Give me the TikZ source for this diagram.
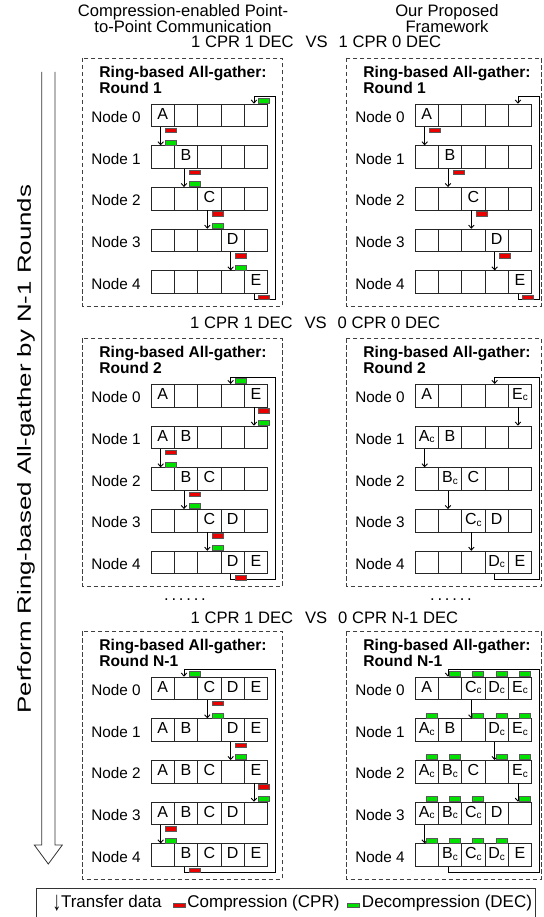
\documentclass[tikz,border=0pt]{standalone}
\usepackage{fontspec}
\setmainfont{Liberation Sans}
\usepackage{tikz}
\usetikzlibrary{positioning}
\usetikzlibrary{arrows.meta}

\definecolor{cprred}{RGB}{235,0,0}
\definecolor{decgreen}{RGB}{0,225,0}

% data cell that was compressed
\newcommand{\cc}{\raisebox{-1.5pt}{\fontsize{10}{10}\selectfont c}}
\newcommand{\sixdots}{.\kern2.8pt.\kern2.8pt.\kern2.8pt.\kern2.8pt.\kern2.8pt.}

% panel: name, x of first cell, top of box, box width, round, rows
\newcommand{\Panel}[6]{%
	\draw[panelbox] (#2-68.3,#3) rectangle ++(#4,248);
	\node[paneltitle] (#1-title) at (#2-51.8,#3+8) {Ring-based All-gather:\\#5};
	\foreach \rowtxt [count=\ri from 0] in {#6} {
		\node[nodelabel] (#1-lab\ri) at (#2-35,#3+59+41.7*\ri) {Node \ri};
		\foreach \txt [count=\ci from 0] in \rowtxt {
			\node[cell] (#1-\ri-\ci) at (#2+11.67+23.33*\ci,#3+57.35+41.7*\ri) {\txt};
		}
	}
}
\newcommand{\Xfer}[4]{\draw[xfer] ([xshift=-2pt]#1-#2-#3.south) -- ([xshift=-2pt]#1-#4-#3.north);}
\newcommand{\Ring}[2]{\draw[xfer] ([xshift=-2pt]#1-4-#2.south) -- ++(0,5.5) -| ([xshift=7.3pt,yshift=7pt]#1-0-4.north east) -| ([xshift=-2pt]#1-0-#2.north);}
\newcommand{\Cpr}[3]{\node[cprbox, anchor=north west] (#1-#2-#3-cpr) at ([xshift=2.5pt,yshift=-1pt]#1-#2-#3.south) {};}
\newcommand{\Dec}[4][2.5pt]{\node[decbox, anchor=south west] (#2-#3-#4-dec) at ([xshift=#1,yshift=0.3pt]#2-#3-#4.north) {};}

\begin{document}
\begin{tikzpicture}[x=1pt,y=-1pt]
	\tikzstyle{cell} = [draw=black!85, line width=0.7pt, minimum width=23.33pt, minimum height=22.7pt, inner sep=0pt, text height=11.5pt, text depth=4pt, font=\fontsize{16}{16}\selectfont]
	\tikzstyle{nodelabel} = [inner sep=0pt, font=\fontsize{15.3}{15.3}\selectfont]
	\tikzstyle{paneltitle} = [anchor=north west, align=left, inner sep=0pt, font=\fontsize{15.6}{13.3}\selectfont\bfseries]
	\tikzstyle{panelbox} = [draw=black!75, line width=0.8pt, dash pattern=on 4.5pt off 2.5pt]
	\tikzstyle{xfer} = [-{Straight Barb[length=3pt,width=5.5pt]}, line width=0.9pt]
	\tikzstyle{cprbox} = [draw=black!65, fill=cprred, line width=0.5pt, minimum width=11pt, minimum height=4.4pt, inner sep=0pt]
	\tikzstyle{decbox} = [draw=black!65, fill=decgreen, line width=0.5pt, minimum width=11pt, minimum height=5pt, inner sep=0pt]
	\tikzstyle{header} = [align=center, inner sep=0pt, font=\fontsize{16.6}{14}\selectfont]
	\tikzstyle{vslabel} = [anchor=west, inner sep=0pt, font=\fontsize{16.6}{16.6}\selectfont]
	\tikzstyle{legtext} = [inner sep=0pt, font=\fontsize{17}{17}\selectfont]
	\useasboundingbox (0,0) rectangle (543,917);
	%\draw[help lines, step=50] (0,0) grid (543,917);

	\node[header] (headleft) at (183,18.4) {Compression-enabled Point-\\to-Point Communication};
	\node[header] (headright) at (447,18.4) {Our Proposed\\Framework};

	% round 1
	\node[vslabel] (vs1) at (191,42) {1 CPR 1 DEC\hspace{12pt}VS\hspace{11pt}1 CPR 0 DEC};
	\Panel{L1}{151}{58}{199.3}{Round 1}{{A,,,,},{,B,,,},{,,C,,},{,,,D,},{,,,,E}}
	\Panel{R1}{415}{58}{194.8}{Round 1}{{A,,,,},{,B,,,},{,,C,,},{,,,D,},{,,,,E}}
	\foreach \k/\n in {0/1,1/2,2/3,3/4} {
		\Xfer{L1}{\k}{\k}{\n} \Cpr{L1}{\k}{\k} \Dec{L1}{\n}{\k}
		\Xfer{R1}{\k}{\k}{\n} \Cpr{R1}{\k}{\k}
	}
	\Ring{L1}{4} \Cpr{L1}{4}{4} \Dec{L1}{0}{4}
	\Ring{R1}{4} \Cpr{R1}{4}{4}

	% round 2
	\node[vslabel] (vs2) at (190,323) {1 CPR 1 DEC\hspace{12pt}VS\hspace{11pt}0 CPR 0 DEC};
	\Panel{L2}{151}{338.3}{199.3}{Round 2}{{A,,,,E},{A,B,,,},{,B,C,,},{,,C,D,},{,,,D,E}}
	\Panel{R2}{415}{338.3}{194.8}{Round 2}{{A,,,,E\cc},{A\cc,B,,,},{,B\cc,C,,},{,,C\cc,D,},{,,,D\cc,E}}
	\foreach \k/\c/\n in {0/4/1,1/0/2,2/1/3,3/2/4} {
		\Xfer{L2}{\k}{\c}{\n} \Cpr{L2}{\k}{\c} \Dec{L2}{\n}{\c}
		\Xfer{R2}{\k}{\c}{\n}
	}
	\Ring{L2}{3} \Cpr{L2}{4}{3} \Dec{L2}{0}{3}
	\Ring{R2}{3}

	\node[vslabel, anchor=center] (dotsleft) at (185,599.3) {\sixdots};
	\node[vslabel, anchor=center] (dotsright) at (451,599.3) {\sixdots};

	% round N-1
	\node[vslabel] (vs3) at (190.5,617.3) {1 CPR 1 DEC\hspace{12pt}VS\hspace{11pt}0 CPR N-1 DEC};
	\Panel{L3}{151}{631}{199.3}{Round N-1}{{A,,C,D,E},{A,B,,D,E},{A,B,C,,E},{A,B,C,D,},{,B,C,D,E}}
	\Panel{R3}{415}{631}{194.8}{Round N-1}{{A,,C\cc,D\cc,E\cc},{A\cc,B,,D\cc,E\cc},{A\cc,B\cc,C,,E\cc},{A\cc,B\cc,C\cc,D,},{,B\cc,C\cc,D\cc,E}}
	\foreach \k/\c/\n in {0/2/1,1/3/2,2/4/3,3/0/4} {
		\Xfer{L3}{\k}{\c}{\n} \Cpr{L3}{\k}{\c} \Dec{L3}{\n}{\c}
		\Xfer{R3}{\k}{\c}{\n}
	}
	\Ring{L3}{1} \Cpr{L3}{4}{1} \Dec{L3}{0}{1}
	\Ring{R3}{1}
	\foreach \ri in {0,...,4} {
		\foreach \ci in {0,...,4} {
			\ifnum\ri=\ci\else\Dec[-1pt]{R3}{\ri}{\ci}\fi
		}
	}

	% rounds arrow
	\draw[draw=black!80, line width=0.8pt] (41.7,72) -- (41.7,845) -- (34.3,845) -- (48.3,864) -- (62.3,845) -- (55,845) -- (55,72);
	\node[inner sep=0pt, rotate=90, font=\fontsize{19}{19}\selectfont] (sidelabel) at (26,449) {\scalebox{1.36}[1]{Perform Ring-based All-gather by N-1 Rounds}};

	% legend
	\draw[draw=black!80, line width=0.8pt] (36,888) rectangle (535,918);
	\node[legtext, anchor=base east] (legxfer) at (161.7,907.7) {\raisebox{-3pt}{\scalebox{1}[1.6]{↓}}Transfer data};
	\node[cprbox, minimum width=12.3pt, right=11pt of legxfer, yshift=-1.5pt] (legcpr) {};
	\node[legtext, right=1.7pt of legcpr, yshift=1.5pt] (legcprtext) {Compression (CPR)};
	\node[decbox, minimum width=12.3pt, minimum height=4.4pt, right=7.3pt of legcprtext, yshift=-1.5pt] (legdec) {};
	\node[legtext, right=2pt of legdec, yshift=1.5pt] (legdectext) {Decompression (DEC)};
\end{tikzpicture}
\end{document}
